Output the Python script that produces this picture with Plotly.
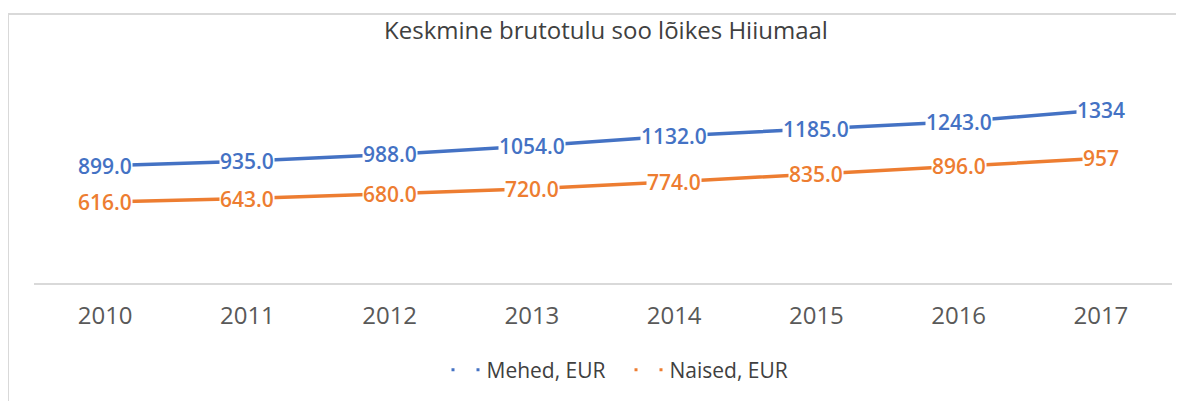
import plotly.graph_objects as go

years = ["2010", "2011", "2012", "2013", "2014", "2015", "2016", "2017"]
mehed = [899.0, 935.0, 988.0, 1054.0, 1132.0, 1185.0, 1243.0, 1334]
naised = [616.0, 643.0, 680.0, 720.0, 774.0, 835.0, 896.0, 957]
series_names = ["Mehed, EUR", "Naised, EUR"]
colors = ["#4472C4", "#ED7D31"]
title = "Keskmine brutotulu soo lõikes Hiiumaal"

FONT = "Open Sans"
OFF = 8  # page body margin
W, H = 1184, 401
L, R, T, B = 26, 20, 68, 126
plot_w = W - L - R
plot_h = H - T - B

fig = go.Figure()
annotations = []
for name, vals, col in zip(series_names, [mehed, naised], colors):
    fig.add_trace(go.Scatter(x=years, y=vals, mode="lines", line=dict(color=col, width=3.5),
                             showlegend=False, hoverinfo="skip"))
    # legend-only entry with dashed icon
    fig.add_trace(go.Scatter(x=[None], y=[None], mode="lines", name=name,
                             line=dict(color=col, width=3, dash="3px,22px")))
    for i, v in enumerate(vals):
        txt = str(int(v)) if i == len(vals) - 1 else f"{v:.1f}"
        annotations.append(dict(x=i, y=v, xref="x", yref="y", text=txt, showarrow=False,
                                bgcolor="white", borderpad=0,
                                font=dict(family=FONT, size=21, color=col, weight=600)))

def px_x(p):
    return (p - OFF - L) / plot_w

def px_y(p):
    return (H - B - (p - OFF)) / plot_h

shapes = [
    dict(type="line", xref="paper", yref="paper", x0=px_x(8), x1=px_x(W + 20), y0=px_y(14), y1=px_y(14),
         line=dict(color="#D9D9D9", width=2)),
    dict(type="line", xref="paper", yref="paper", x0=px_x(8), x1=px_x(8), y0=px_y(14), y1=px_y(H + 20),
         line=dict(color="#D9D9D9", width=2)),
]

fig.update_layout(
    width=W, height=H,
    margin=dict(l=L, r=R, t=T, b=B),
    paper_bgcolor="white", plot_bgcolor="white",
    title=dict(text=title, x=px_x(606), xref="paper", xanchor="center",
               y=1 - (31 - OFF) / H, yref="container", yanchor="middle",
               font=dict(family=FONT, size=24, color="#404040")),
    xaxis=dict(type="category", categoryorder="array", categoryarray=years, range=[-0.5, 7.5],
               showgrid=False, zeroline=False, showline=True, linecolor="#D9D9D9", linewidth=2,
               ticks="outside", ticklen=10, tickcolor="rgba(0,0,0,0)",
               tickfont=dict(family=FONT, size=24, color="#595959")),
    yaxis=dict(range=[-16, 1600], visible=False, showgrid=False, zeroline=False),
    legend=dict(orientation="h", x=px_x(629.5), xanchor="center", y=px_y(370), yanchor="middle",
                font=dict(family=FONT, size=21, color="#404040"), entrywidth=138),
    annotations=annotations,
    shapes=shapes,
)

fig.write_html("out.html")
